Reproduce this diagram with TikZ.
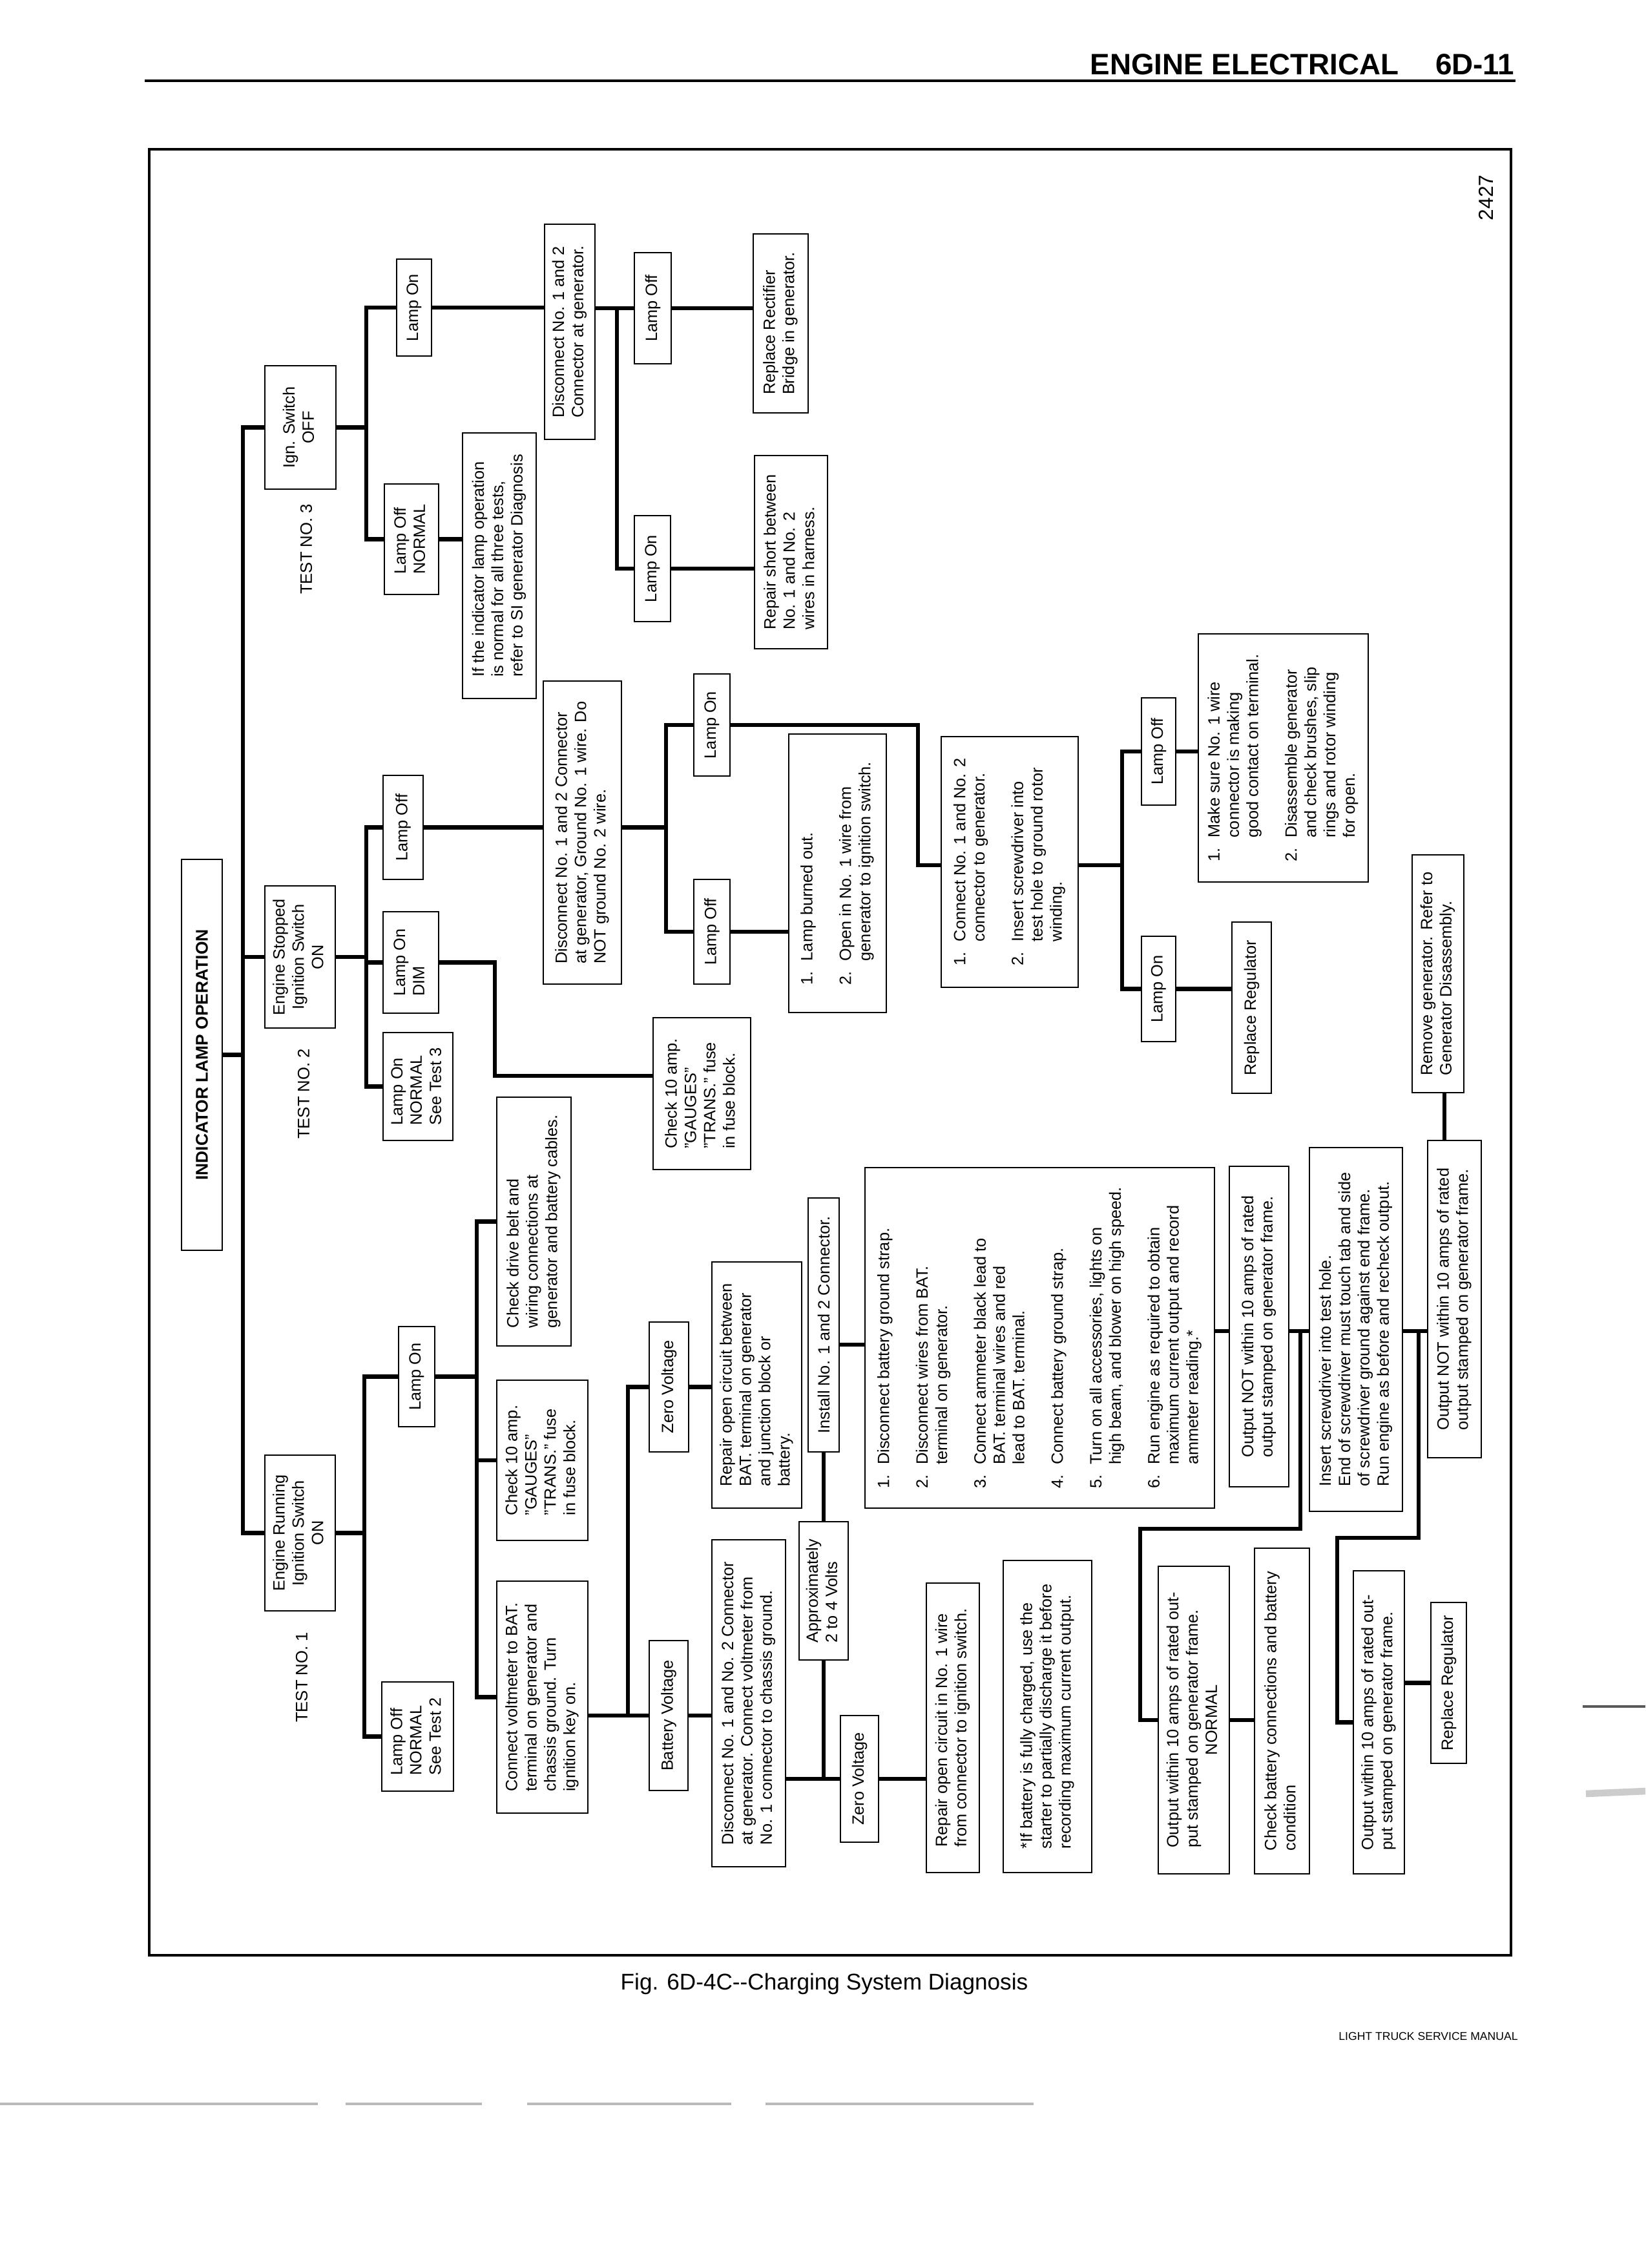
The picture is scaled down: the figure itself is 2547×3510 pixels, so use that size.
\documentclass[tikz,border=0pt]{standalone}
\usepackage{fontspec}
\setmainfont{Liberation Sans}
\newlength\igap \setlength\igap{8.5pt}
\newcommand\tbl[1]{\begin{tabular}{@{}l@{}}#1\end{tabular}}
\newcommand\tcn[1]{\begin{tabular}{@{}c@{}}#1\end{tabular}}
\newcommand\tnum[1]{\begin{tabular}{@{}l@{\hspace{4.5pt}}l@{}}#1\end{tabular}}
\newcommand\bxx[6]{%
  \pgfmathsetmacro\bxw{(#5-#3)*0.01}%
  \pgfmathsetmacro\bxh{(#4-#2)*0.01}%
  \node[bxs,minimum width=\bxw cm,minimum height=\bxh cm] (#1) at ({(#2+#4)/2},{(#3+#5)/2}) {#6};}
\tikzset{
  bxs/.style={draw,line width=0.75pt,rotate=90,inner sep=0pt,fill=white,
    font=\fontsize{7.2}{8.5}\selectfont},
  cn/.style={line width=1.9pt,line join=miter},
  lbl/.style={rotate=90,inner sep=0pt,font=\fontsize{7.3}{8.5}\selectfont},
}
\begin{document}
\begin{tikzpicture}[x=0.01cm,y=-0.01cm]
\fill[white] (0,0) rectangle (2547,3510);
\useasboundingbox (0,0) rectangle (2547,3510);

% header
\node[anchor=base east,inner sep=0pt,font=\bfseries\fontsize{13}{16}\selectfont] (hdr) at (2166,116) {ENGINE ELECTRICAL};
\node[anchor=base east,inner sep=0pt,font=\bfseries\fontsize{13}{16}\selectfont] (pg) at (2345,116) {6D-11};
\draw[line width=1.3pt] (224,125) -- (2346,125);

% frame
\draw[line width=1pt] (231,231) rectangle (2339,3026);
\node[lbl,font=\fontsize{9}{10}\selectfont] (fignum) at (2300,306) {2427};

% title and test labels
\bxx{title}{281}{1330}{344}{1935}{\bfseries\fontsize{7.5}{9}\selectfont INDICATOR LAMP OPERATION}
\node[lbl] (t3) at (474,850) {TEST NO. 3};
\node[lbl] (t2) at (470,1693) {TEST NO. 2};
\node[lbl] (t1) at (467,2596) {TEST NO. 1};

% first level
\bxx{ign}{410}{566}{520}{757}{\tcn{Ign. Switch\\OFF}}
\bxx{estop}{410}{1371}{519}{1591}{\tcn{Engine Stopped\\Ignition Switch\\ON}}
\bxx{erun}{410}{2252}{519}{2493}{\tcn{Engine Running\\Ignition Switch\\ON}}

% test 3
\bxx{lon3}{614}{401}{668}{551}{Lamp On}
\bxx{loff3}{595}{749}{679}{920}{\tbl{Lamp Off\\NORMAL}}
\bxx{dis3}{843}{347}{921}{680}{\tbl{Disconnect No. 1 and 2\\Connector at generator.}}
\bxx{ifind}{716}{670}{830}{1081}{\tbl{If the indicator lamp operation\\is normal for all three tests,\\refer to SI generator Diagnosis}}
\bxx{loffb}{982}{391}{1039}{563}{Lamp Off}
\bxx{lonb}{982}{798}{1038}{962}{Lamp On}
\bxx{rect}{1166}{362}{1251}{639}{\tbl{Replace Rectifier\\Bridge in generator.}}
\bxx{short}{1168}{705}{1281}{1004}{\tbl{Repair short between\\No. 1 and No. 2\\wires in harness.}}

% test 2
\bxx{loff2}{593}{1200}{655}{1361}{Lamp Off}
\bxx{ldim}{593}{1411}{679}{1568}{\tbl{Lamp On\\DIM}}
\bxx{lon2n}{593}{1598}{701}{1765}{\tbl{Lamp On\\NORMAL\\See Test 3}}
\bxx{dis2}{841}{1054}{962}{1523}{\tbl{Disconnect No. 1 and 2 Connector\\at generator, Ground No. 1 wire. Do\\NOT ground No. 2 wire.}}
\bxx{lonc}{1074}{1043}{1130}{1201}{Lamp On}
\bxx{loffc}{1074}{1361}{1130}{1523}{Lamp Off}
\bxx{burn}{1221}{1136}{1372}{1567}{\tnum{1. & Lamp burned out.\\[\igap] 2. & Open in No. 1 wire from\\ & generator to ignition switch.}}
\bxx{conn}{1457}{1140}{1669}{1528}{\tnum{1. & Connect No. 1 and No. 2\\ & connector to generator.\\[\igap] 2. & Insert screwdriver into\\ & test hole to ground rotor\\ & winding.}}
\bxx{loffd}{1767}{1080}{1820}{1246}{Lamp Off}
\bxx{lond}{1767}{1449}{1820}{1612}{Lamp On}
\bxx{make}{1855}{981}{2118}{1365}{\tnum{1. & Make sure No. 1 wire\\ & connector is making\\ & good contact on terminal.\\[\igap] 2. & Disassemble generator\\ & and check brushes, slip\\ & rings and rotor winding\\ & for open.}}
\bxx{rreg1}{1907}{1427}{1968}{1692}{Replace Regulator}
\bxx{remove}{2186}{1323}{2266}{1691}{\tbl{Remove generator. Refer to\\Generator Disassembly.}}
\bxx{chk2}{1011}{1575}{1162}{1810}{\tbl{Check 10 amp.\\”GAUGES”\\”TRANS.” fuse\\in fuse block.}}

% test 1
\bxx{lon1}{617}{2053}{673}{2208}{Lamp On}
\bxx{loffn2}{591}{2603}{702}{2772}{\tbl{Lamp Off\\NORMAL\\See Test 2}}
\bxx{chkd}{769}{1698}{884}{2083}{\tbl{Check drive belt and\\wiring connections at\\generator and battery cables.}}
\bxx{chk1}{769}{2136}{910}{2384}{\tbl{Check 10 amp.\\”GAUGES”\\”TRANS.” fuse\\in fuse block.}}
\bxx{volt}{769}{2447}{910}{2806}{\tbl{Connect voltmeter to BAT.\\terminal on generator and\\chassis ground. Turn\\ignition key on.}}
\bxx{zv1}{1005}{2046}{1066}{2247}{Zero Voltage}
\bxx{bv}{1005}{2539}{1065}{2771}{Battery Voltage}
\bxx{ropen}{1102}{1953}{1241}{2334}{\tbl{Repair open circuit between\\BAT. terminal on generator\\and junction block or\\battery.}}
\bxx{dis1}{1102}{2383}{1216}{2889}{\tbl{Disconnect No. 1 and No. 2 Connector\\at generator. Connect voltmeter from\\No. 1 connector to chassis ground.}}
\bxx{approx}{1237}{2355}{1313}{2569}{\tbl{Approximately\\2 to 4 Volts}}
\bxx{install}{1251}{1854}{1299}{2247}{Install No. 1 and 2 Connector.}
\bxx{zv2}{1301}{2655}{1360}{2851}{Zero Voltage}
\bxx{rep1}{1434}{2450}{1516}{2898}{\tbl{Repair open circuit in No. 1 wire\\from connector to ignition switch.}}
\bxx{note}{1553}{2415}{1690}{2898}{\tbl{*If battery is fully charged, use the\\starter to partially discharge it before\\recording maximum current output.}}
\bxx{list}{1339}{1807}{1880}{2334}{\tnum{1. & Disconnect battery ground strap.\\[\igap] 2. & Disconnect wires from BAT.\\ & terminal on generator.\\[\igap] 3. & Connect ammeter black lead to\\ & BAT. terminal wires and red\\ & lead to BAT. terminal.\\[\igap] 4. & Connect battery ground strap.\\[\igap] 5. & Turn on all accessories, lights on\\ & high beam, and blower on high speed.\\[\igap] 6. & Run engine as required to obtain\\ & maximum current output and record\\ & ammeter reading.*}}
\bxx{outM}{1903}{1805}{1995}{2301}{\tbl{Output NOT within 10 amps of rated\\output stamped on generator frame.}}
\bxx{ins}{2027}{1776}{2171}{2339}{\tbl{Insert screwdriver into test hole.\\End of screwdriver must touch tab and side\\of screwdriver ground against end frame.\\Run engine as before and recheck output.}}
\bxx{outR}{2210}{1765}{2293}{2256}{\tbl{Output NOT within 10 amps of rated\\output stamped on generator frame.}}
\bxx{outN}{1793}{2424}{1903}{2900}{\begin{tabular}{@{}l@{}}Output within 10 amps of rated out-\\put stamped on generator frame.\\\multicolumn{1}{@{}c@{}}{NORMAL}\end{tabular}}
\bxx{chkb}{1942}{2396}{2027}{2900}{\tbl{Check battery connections and battery\\condition}}
\bxx{outW}{2095}{2431}{2174}{2900}{\tbl{Output within 10 amps of rated out-\\put stamped on generator frame.}}
\bxx{rreg2}{2215}{2480}{2270}{2729}{Replace Regulator}

% ---------- connectors ----------
% main bar
\coordinate (vm) at (376,0);
\draw[cn] (ign.north) -| (vm |- erun.north) -- (erun.north);
\draw[cn] (estop.north) -- (estop.north -| vm);
\draw[cn] (title.south) -- (title.south -| vm);

% test 3
\coordinate (v3) at (567,0);
\draw[cn] (ign.south) -- (ign.south -| v3);
\draw[cn] (lon3.north) -| (v3 |- loff3.north) -- (loff3.north);
\draw[cn] (loff3.south) -- (ifind.north |- loff3.south);
\draw[cn] (lon3.south) -- (dis3.north |- lon3.south);
\coordinate (v3b) at (955,0);
\draw[cn] (dis3.south |- loffb.north) -- (loffb.north);
\draw[cn] (loffb.north -| v3b) |- (lonb.north);
\draw[cn] (loffb.south) -- (rect.north |- loffb.south);
\draw[cn] (lonb.south) -- (short.north |- lonb.south);

% test 2
\coordinate (v2) at (567,0);
\draw[cn] (estop.south) -- (estop.south -| v2);
\draw[cn] (loff2.north) -| (v2 |- lon2n.north) -- (lon2n.north);
\draw[cn] (ldim.north) -- (ldim.north -| v2);
\coordinate (k2) at (766,1665);
\draw[cn] (ldim.south) -| (k2) -- (chk2.north |- k2);
\draw[cn] (loff2.south) -- (dis2.north |- loff2.south);
\coordinate (v2b) at (1031,0);
\draw[cn] (dis2.south |- loff2.south) -- (v2b |- loff2.south);
\draw[cn] (lonc.north) -| (v2b |- loffc.north) -- (loffc.north);
\draw[cn] (loffc.south) -- (burn.north |- loffc.south);
\coordinate (k3) at (1421,1339);
\draw[cn] (lonc.south) -| (k3) -- (conn.north |- k3);
\coordinate (v2c) at (1737,0);
\draw[cn] (conn.south |- k3) -- (v2c |- k3);
\draw[cn] (loffd.north) -| (v2c |- lond.north) -- (lond.north);
\draw[cn] (loffd.south) -- (make.north |- loffd.south);
\draw[cn] (lond.south) -- (rreg1.north |- lond.south);
\coordinate (k5) at (2236,0);
\draw[cn] (remove.west -| k5) -- (outR.east -| k5);

% test 1
\coordinate (v1) at (564,0);
\draw[cn] (erun.south) -- (erun.south -| v1);
\draw[cn] (lon1.north) -| (v1 |- loffn2.north) -- (loffn2.north);
\coordinate (v1b) at (738,0);
\draw[cn] (lon1.south) -- (lon1.south -| v1b);
\draw[cn] (chkd.north) -| (v1b |- volt.north) -- (volt.north);
\draw[cn] (chk1.north) -- (chk1.north -| v1b);
\coordinate (v1c) at (972,0);
\draw[cn] (volt.south |- bv.north) -- (bv.north);
\draw[cn] (zv1.north) -| (v1c |- bv.north);
\draw[cn] (zv1.south) -- (ropen.north |- zv1.south);
\draw[cn] (bv.south) -- (dis1.north |- bv.south);
\draw[cn] (dis1.south |- zv2.north) -- (zv2.north);
\draw[cn] (install.west) -- (approx.east);
\draw[cn] (approx.west) -- (approx.west |- zv2.north);
\draw[cn] (zv2.south) -- (rep1.north |- zv2.south);
\coordinate (k8) at (0,2081);
\draw[cn] (install.south |- k8) -- (list.north |- k8);
\coordinate (k9) at (0,2060);
\draw[cn] (list.south |- k9) -- (outM.north |- k9);
\draw[cn] (outM.south |- k9) -- (ins.north |- k9);
\draw[cn] (ins.south |- k9) -- (outR.north |- k9);
\coordinate (j1) at (2013,2060);
\coordinate (b1) at (1765,2366);
\draw[cn] (j1) |- (b1) |- (outN.north);
\coordinate (j2) at (2196,2060);
\coordinate (b2) at (2070,2380);
\draw[cn] (j2) |- (b2) |- (outW.north);
\draw[cn] (outN.south) -- (chkb.north |- outN.south);
\draw[cn] (outW.south |- rreg2.north) -- (rreg2.north);

% caption and footer
\node[anchor=west,inner sep=0pt,font=\fontsize{10}{12}\selectfont] (cap) at (960,3070) {Fig. 6D-4C-{}-Charging System Diagnosis};
\node[inner sep=0pt,font=\fontsize{5}{6}\selectfont] (ft) at (2211,3151) {LIGHT TRUCK SERVICE MANUAL};

% scan marks
\draw[gray!55,line width=1pt,dash pattern=on 140pt off 12pt on 60pt off 20pt on 90pt off 15pt] (0,3256) -- (1600,3256);
\draw[gray!70!black,line width=1.2pt] (2450,2641) -- (2547,2641);
\draw[gray!40,line width=3pt] (2455,2776) -- (2547,2772);
\end{tikzpicture}
\end{document}
